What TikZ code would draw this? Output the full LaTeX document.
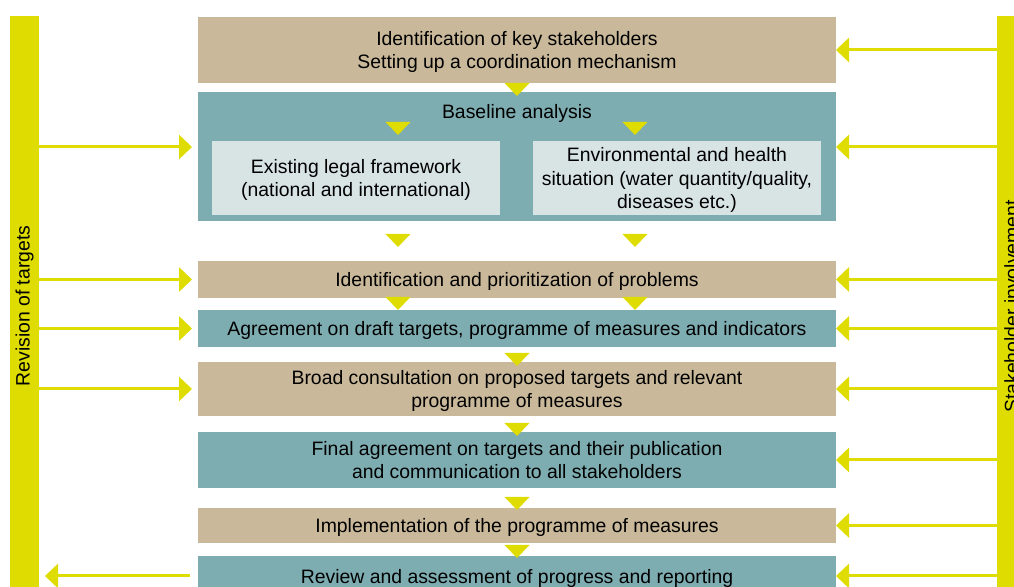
\documentclass[tikz,border=0pt]{standalone}
\usepackage{fontspec}
\setmainfont{Liberation Sans}
\usetikzlibrary{arrows.meta,calc}

\definecolor{boxtan}{HTML}{C9B99A}
\definecolor{boxteal}{HTML}{7EADB1}
\definecolor{boxlight}{HTML}{D8E3E3}
\definecolor{markyellow}{HTML}{DEDC00}

\newcommand{\downmark}[2]{\fill[markyellow] (#1-12.5,#2) -- ++(25,0) -- ++(-12.5,13) -- cycle;}

\begin{document}
\begin{tikzpicture}[x=0.5pt,y=-0.5pt,
  every node/.style={font=\fontsize{9.7}{11.6}\selectfont,inner sep=0pt,outer sep=0pt,align=center,text depth=0pt},
  stage/.style={fill=#1,minimum width=319pt},
  inset/.style={fill=boxlight,minimum width=144pt,minimum height=37pt},
  sidebar/.style={fill=markyellow,minimum width=14.5pt,minimum height=290pt},
  link/.style={draw,color=markyellow,line width=1.5pt,-{Triangle[length=6.5pt,width=12pt]}}]
  \useasboundingbox (0,0) rectangle (1014,587);
  \clip (0,0) rectangle (1014,587);

  \node[sidebar] (rev)   at (24.5,306)   {\rotatebox{90}{Revision of targets}};
  \node[sidebar] (stake) at (1011.5,306.5) {\rotatebox{90}{Stakeholder involvement}};

  \node[stage=boxtan,minimum height=33pt]    (ident)   at (517,50)    {Identification of key stakeholders\\Setting up a coordination mechanism};
  \node[stage=boxteal,minimum height=64.5pt] (base)    at (517,156.5) {};
  \node                                      (basetxt) at (517,111)   {Baseline analysis};
  \node[inset]                               (legal)   at (356,178)   {Existing legal framework\\(national and international)};
  \node[inset]                               (envhlth) at (677,178)   {Environmental and health\\situation (water quantity/quality,\\diseases etc.)};
  \node[stage=boxtan,minimum height=18.5pt]  (probs)   at (517,279.5) {Identification and prioritization of problems};
  \node[stage=boxteal,minimum height=18.5pt] (draft)   at (517,328.5) {Agreement on draft targets, programme of measures and indicators};
  \node[stage=boxtan,minimum height=27pt]    (consult) at (517,389)   {Broad consultation on proposed targets and relevant\\programme of measures};
  \node[stage=boxteal,minimum height=28pt]   (final)   at (517,460)   {Final agreement on targets and their publication\\and communication to all stakeholders};
  \node[stage=boxtan,minimum height=17.5pt]  (impl)    at (517,525.5) {Implementation of the programme of measures};
  \node[stage=boxteal,minimum height=20pt]   (review)  at (517,576)   {Review and assessment of progress and reporting};

  % flow markers
  \downmark{517}{83}
  \foreach \y in {122,234,297} {\downmark{398}{\y}\downmark{635}{\y}}
  \foreach \y in {353,423,497,545} {\downmark{517}{\y}}

  \coordinate (basein)  at ($(base.west)+(0,-9.5)$);
  \coordinate (baseout) at ($(base.east)+(0,-9.5)$);

  \path[every edge/.style={link,shorten >=3pt}]
    (rev.east |- basein)       edge (basein)
    (rev.east |- probs.west)   edge (probs.west)
    (rev.east |- draft.west)   edge (draft.west)
    (rev.east |- consult.west) edge (consult.west)
    (review.west)              edge [shorten <=4pt] (rev.east |- review.west);

  \path[every edge/.style={link}]
    (stake.west |- ident.east)   edge (ident.east)
    (stake.west |- baseout)      edge (baseout)
    (stake.west |- probs.east)   edge (probs.east)
    (stake.west |- draft.east)   edge (draft.east)
    (stake.west |- consult.east) edge (consult.east)
    (stake.west |- final.east)   edge (final.east)
    (stake.west |- impl.east)    edge (impl.east)
    (stake.west |- review.east)  edge (review.east);
\end{tikzpicture}
\end{document}
